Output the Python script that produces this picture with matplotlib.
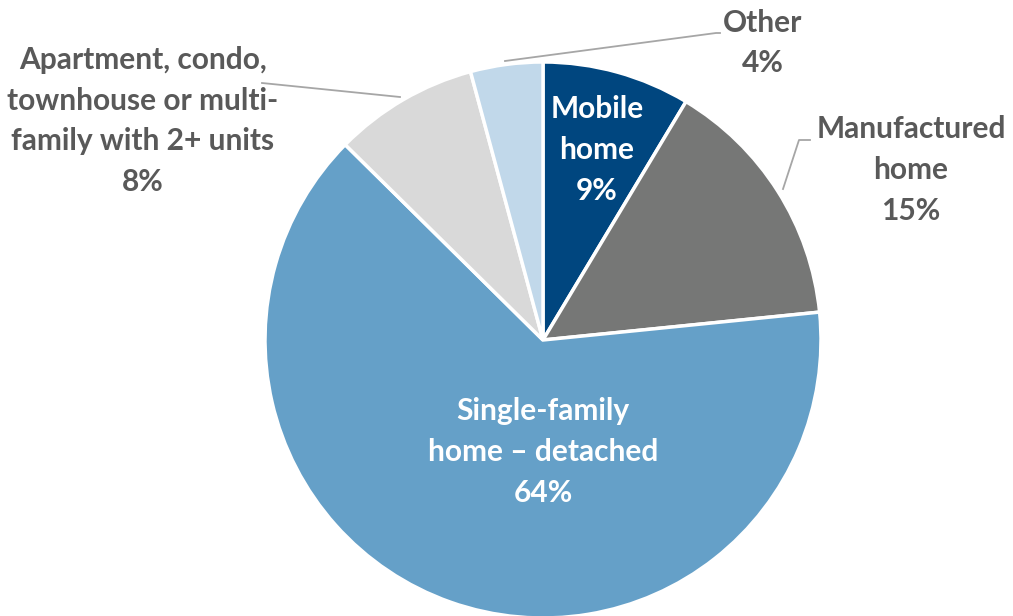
import matplotlib.pyplot as plt

# slices, clockwise from 12 o'clock
labels = ['Mobile\nhome', 'Manufactured\nhome', 'Single-family\nhome \u2013 detached',
          'Apartment, condo,\ntownhouse or multi-\nfamily with 2+ units', 'Other']
shares = [8.6, 14.8, 64.0, 8.4, 4.2]
pct_text = ['9%', '15%', '64%', '8%', '4%']
colors = ['#00467f', '#767776', '#65a0c8', '#d9d9d9', '#c1d8ea']

W, H = 1013, 616
fig = plt.figure(figsize=(W / 100, H / 100), dpi=100)
ax = fig.add_axes([0, 0, 1, 1])

cx, cy, r = 543, H - 340, 278
ax.pie(shares, colors=colors, startangle=90, counterclock=False,
       center=(cx, cy), radius=r, frame=True,
       wedgeprops=dict(edgecolor='white', linewidth=2.5))
ax.set_xlim(0, W)
ax.set_ylim(0, H)
ax.set_aspect('equal')
ax.axis('off')

font = dict(family=['Lato', 'DejaVu Sans'], fontweight='bold', fontsize=21.5,
            ha='center', va='center', linespacing=1.55)
grey = '#595959'

# (x, y) of each label block, in image pixels (y down)
pos = [(597, 150), (911, 170), (543, 452), (143, 121), (763, 43)]
txt_col = ['white', grey, 'white', grey, grey]
for lab, p, (x, y), c in zip(labels, pct_text, pos, txt_col):
    ax.text(x, H - y, lab + '\n' + p, color=c, **font)

# leader lines
lc = '#a6a6a6'
ax.plot([262, 400], [H - 83, H - 97], color=lc, lw=1.3)
ax.plot([505, 716, 720], [H - 61, H - 33, H - 33], color=lc, lw=1.3)
ax.plot([783, 799, 810], [H - 189, H - 140, H - 140], color=lc, lw=1.3)

fig.savefig('out.png', dpi=100)
